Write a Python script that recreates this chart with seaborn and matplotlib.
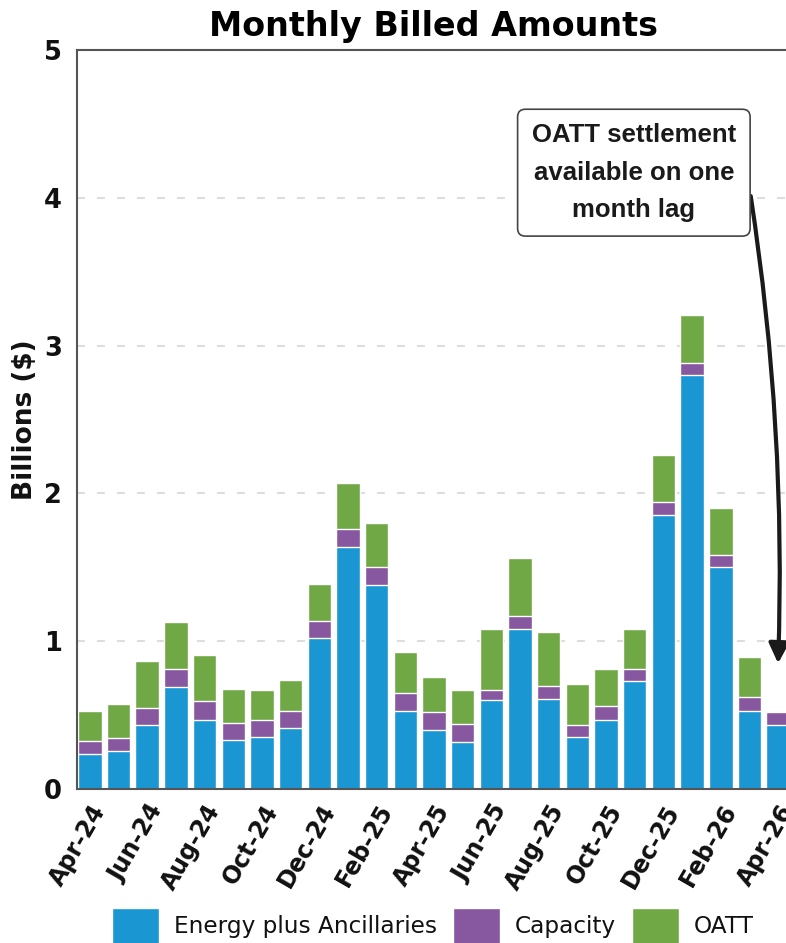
import matplotlib
matplotlib.use("Agg")
import matplotlib.pyplot as plt
from matplotlib.patches import Patch
import numpy as np
import seaborn as sns

months = ["Apr-24", "May-24", "Jun-24", "Jul-24", "Aug-24", "Sep-24", "Oct-24", "Nov-24",
          "Dec-24", "Jan-25", "Feb-25", "Mar-25", "Apr-25", "May-25", "Jun-25", "Jul-25",
          "Aug-25", "Sep-25", "Oct-25", "Nov-25", "Dec-25", "Jan-26", "Feb-26", "Mar-26",
          "Apr-26"]
energy = [0.24, 0.26, 0.43, 0.69, 0.47, 0.33, 0.35, 0.41, 1.02, 1.64, 1.38, 0.53, 0.40,
          0.32, 0.60, 1.08, 0.61, 0.35, 0.47, 0.73, 1.855, 2.80, 1.50, 0.53, 0.43]
capacity = [0.085, 0.085, 0.12, 0.12, 0.125, 0.115, 0.12, 0.12, 0.12, 0.12, 0.12, 0.12, 0.12,
            0.12, 0.07, 0.09, 0.09, 0.085, 0.09, 0.085, 0.085, 0.085, 0.085, 0.09, 0.09]
oatt = [0.205, 0.23, 0.315, 0.32, 0.31, 0.23, 0.20, 0.21, 0.25, 0.31, 0.30, 0.275, 0.24,
        0.23, 0.415, 0.39, 0.36, 0.275, 0.25, 0.27, 0.32, 0.325, 0.315, 0.27, 0.0]
series_names = ["Energy plus Ancillaries", "Capacity", "OATT"]
yticks = [0, 1, 2, 3, 4, 5]
tick_labels = months[::2]

c_energy = "#1a96d3"
c_cap = "#8757a0"
c_oatt = "#6fa845"

sns.set_style("white")
plt.rcParams["font.family"] = ["DejaVu Sans"]
plt.rcParams["text.color"] = "#111111"

e = np.array(energy)
c = np.array(capacity)
o = np.array(oatt)
ec_sum = e + c
total = e + c + o

fig = plt.figure(figsize=(7.86, 9.43), dpi=100)
ax = fig.add_axes([77 / 786, 1 - 789 / 943, 714 / 786, (789 - 50) / 943])

bw = 0.82
sns.barplot(x=months, y=total, color=c_oatt, saturation=1, width=bw, errorbar=None, ax=ax)
sns.barplot(x=months, y=ec_sum, color=c_cap, saturation=1, width=bw, errorbar=None, ax=ax)
sns.barplot(x=months, y=e, color=c_energy, saturation=1, width=bw, errorbar=None, ax=ax)

ax.set_xlim(-0.45, 24.45)
ax.set_ylim(0, 5)
ax.set_yticks(yticks)
ax.set_yticklabels([str(v) for v in yticks], fontsize=18.5, fontweight="bold", color="#111111")
ax.set_xticks(range(0, len(months), 2))
ax.set_xticklabels(tick_labels, rotation=60, ha="right", va="top", rotation_mode="anchor",
                   fontsize=17, fontweight="bold", color="#111111")
ax.tick_params(axis="both", which="major", length=5, width=1.5, color="#444444", direction="out")
ax.tick_params(axis="x", pad=3)
ax.tick_params(axis="y", pad=6)
ax.set_xlabel("")
ax.set_ylabel("Billions ($)", fontsize=19, fontweight="bold", labelpad=4, color="#111111")
ax.set_title("Monthly Billed Amounts", fontsize=24, fontweight="bold", pad=10, color="black")

ax.yaxis.grid(True, linestyle=(0, (3.8, 5.8)), color="#dddddd", lw=1.5)
ax.xaxis.grid(False)
ax.set_axisbelow(True)
for s in ["top", "left", "bottom", "right"]:
    ax.spines[s].set_visible(True)
    ax.spines[s].set_color("#555555")
    ax.spines[s].set_linewidth(1.5)

ax.annotate("OATT settlement\navailable on one\nmonth lag",
            xy=(24, 0.85), xytext=(18.97, 4.17), textcoords="data",
            ha="center", va="center", fontsize=18.5, fontweight="bold",
            family=["Liberation Sans", "DejaVu Sans"], color="#1a1a1a", linespacing=1.7,
            bbox=dict(boxstyle="round,pad=0.55,rounding_size=0.3", fc="white", ec="#444444", lw=1.2),
            arrowprops=dict(arrowstyle="-|>", color="#1a1a1a", lw=3, mutation_scale=30,
                            connectionstyle="arc3,rad=-0.05", relpos=(1.05, 0.55),
                            shrinkA=0, shrinkB=0))

handles = [Patch(facecolor=c_energy, label=series_names[0]),
           Patch(facecolor=c_cap, label=series_names[1]),
           Patch(facecolor=c_oatt, label=series_names[2])]
fig.legend(handles=handles, loc="center", bbox_to_anchor=(433 / 786, 1 - 926 / 943), ncol=3,
           frameon=False, fontsize=16.7, handlelength=2.0, handleheight=2.0,
           handletextpad=0.64, columnspacing=0.72)

fig.savefig("out.png", dpi=100)
